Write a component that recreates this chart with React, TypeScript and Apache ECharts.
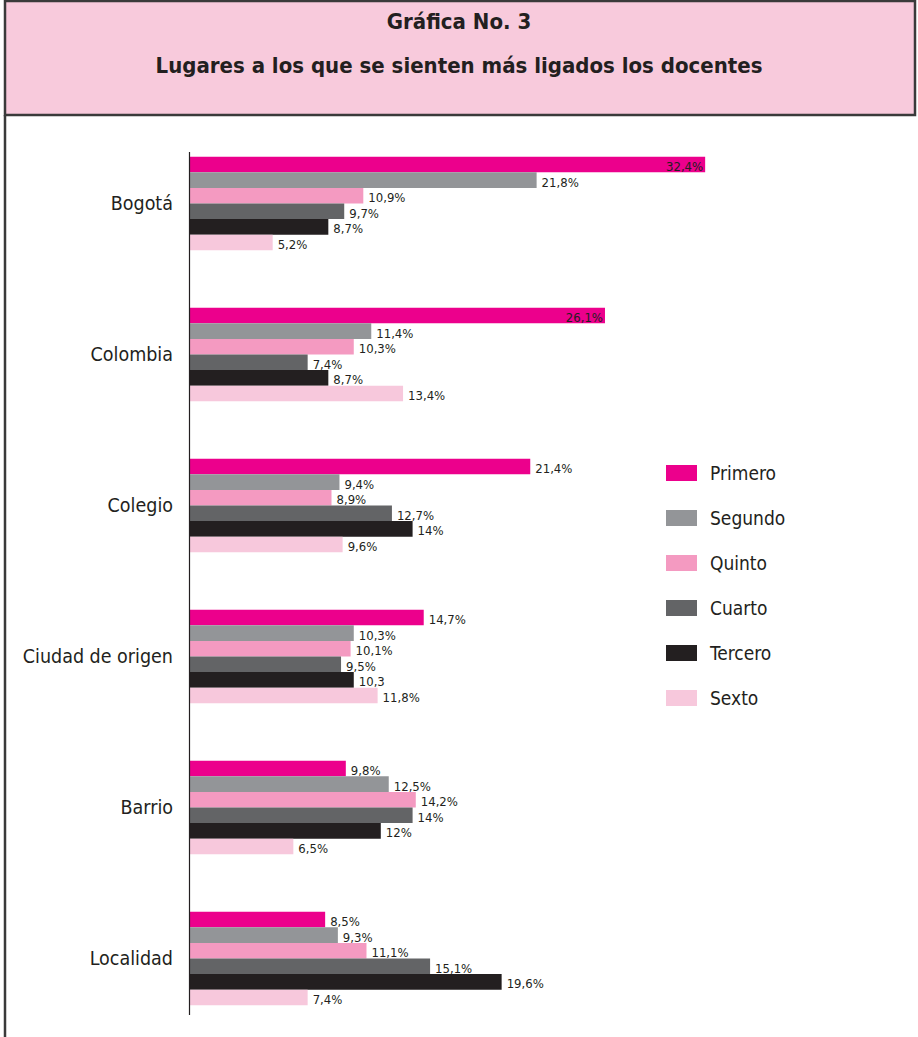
import React, { useEffect, useRef } from "react";
import * as echarts from "echarts";

const categories = ["Bogotá", "Colombia", "Colegio", "Ciudad de origen", "Barrio", "Localidad"];
const seriesNames = ["Primero", "Segundo", "Quinto", "Cuarto", "Tercero", "Sexto"];
const primero = [32.4, 26.1, 21.4, 14.7, 9.8, 8.5];
const segundo = [21.8, 11.4, 9.4, 10.3, 12.5, 9.3];
const quinto = [10.9, 10.3, 8.9, 10.1, 14.2, 11.1];
const cuarto = [9.7, 7.4, 12.7, 9.5, 14, 15.1];
const tercero = [8.7, 8.7, 14, 10.3, 12, 19.6];
const sexto = [5.2, 13.4, 9.6, 11.8, 6.5, 7.4];
const seriesValues = [primero, segundo, quinto, cuarto, tercero, sexto];
const colors = ["#EC008C", "#939598", "#F49AC1", "#636466", "#231F20", "#F7C8DC"];
// labels printed without "%" in the original
const noPercent = [{ series: "Tercero", category: "Ciudad de origen" }];
// labels printed inside the bar end
const insideLabels = [{ series: "Primero", category: "Bogotá" }, { series: "Primero", category: "Colombia" }];

const FONT = "'DejaVu Sans Condensed', 'Liberation Sans Narrow', sans-serif";

export default function App() {
  const ref = useRef<HTMLDivElement>(null);
  useEffect(() => {
    document.body.style.margin = "0";
    const chart = echarts.init(ref.current!, null, { renderer: "svg" });
    const series = seriesNames.map((name, si) => ({
      name,
      type: "bar",
      barWidth: 15.6,
      barGap: "0%",
      itemStyle: { color: colors[si] },
      data: seriesValues[si].map((v, ci) => {
        const inside = insideLabels.some((l) => l.series === name && l.category === categories[ci]);
        return {
          value: v,
          label: inside ? { position: "insideRight", distance: 2 } : undefined,
        };
      }),
      label: {
        show: true,
        position: "right",
        distance: 5,
        offset: [0, 2],
        fontFamily: FONT,
        fontSize: 13,
        color: "#231F20",
        formatter: (p: any) => {
          const s = String(p.value).replace(".", ",");
          const skip = noPercent.some((n) => n.series === p.seriesName && n.category === p.name);
          return skip ? s : s + "%";
        },
      },
    }));
    chart.setOption({
      animation: false,
      textStyle: { fontFamily: FONT },
      graphic: [
        {
          type: "rect",
          z: 0,
          shape: { x: 5, y: 1, width: 910, height: 114 },
          style: { fill: "#F8CADC", stroke: "#3A3A3A", lineWidth: 2.5 },
        },
        {
          type: "line",
          z: 0,
          shape: { x1: 5, y1: 115, x2: 5, y2: 1037 },
          style: { stroke: "#3A3A3A", lineWidth: 2.5 },
        },
        {
          type: "line",
          z: 10,
          shape: { x1: 189.5, y1: 152, x2: 189.5, y2: 1015 },
          style: { stroke: "#231F20", lineWidth: 1.2 },
        },
      ],
      title: [
        {
          text: "Gráfica No. 3",
          left: "center",
          top: 5,
          textStyle: { fontFamily: FONT, fontSize: 22, fontWeight: "bold", color: "#231F20" },
        },
        {
          text: "Lugares a los que se sienten más ligados los docentes",
          left: "center",
          top: 49,
          textStyle: { fontFamily: FONT, fontSize: 22, fontWeight: "bold", color: "#231F20" },
        },
      ],
      legend: {
        orient: "vertical",
        left: 661,
        top: 458,
        itemWidth: 31,
        itemHeight: 16,
        itemGap: 25,
        icon: "rect",
        data: seriesNames,
        textStyle: { fontFamily: FONT, fontSize: 19, lineHeight: 20, color: "#231F20", padding: [0, 0, 0, 8] },
      },
      grid: { left: 190, right: 92, top: 128, bottom: 3 },
      xAxis: { type: "value", min: 0, max: 40, show: false },
      yAxis: {
        type: "category",
        data: categories,
        inverse: true,
        axisLine: { show: false },
        axisTick: { show: false },
        axisLabel: { fontFamily: FONT, fontSize: 19.5, color: "#231F20", margin: 17 },
      },
      series,
    });
    return () => chart.dispose();
  }, []);
  return <div ref={ref} style={{ width: 918, height: 1037 }} />;
}
